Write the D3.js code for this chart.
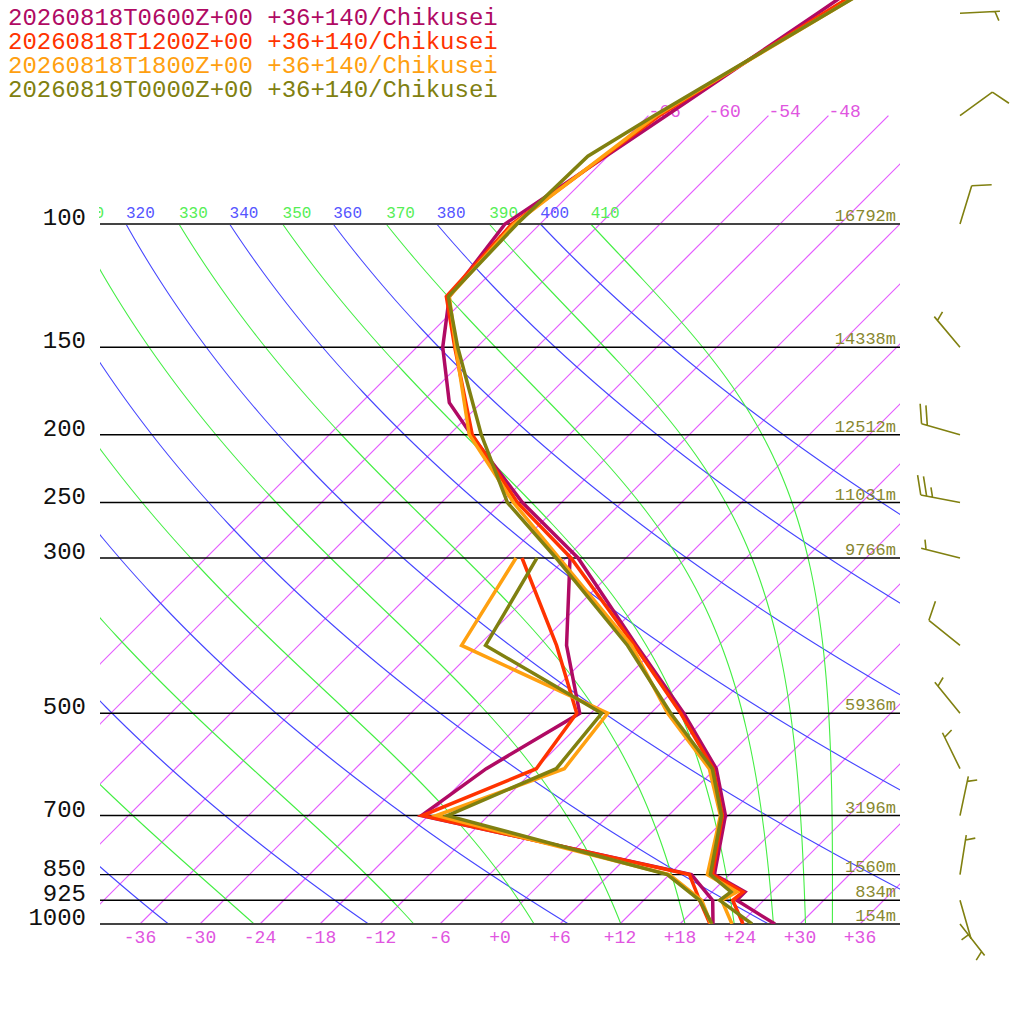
<!DOCTYPE html>
<html><head><meta charset="utf-8">
<script src="https://cdn.jsdelivr.net/npm/d3@7/dist/d3.min.js"></script>
<style>body{margin:0;background:#fff}svg{display:block}</style>
</head><body>
<svg id="c" width="1024" height="1024"></svg>
<script>
// ---------------- data ----------------
const seriesNames = [
  "20260818T0600Z+00 +36+140/Chikusei",
  "20260818T1200Z+00 +36+140/Chikusei",
  "20260818T1800Z+00 +36+140/Chikusei",
  "20260819T0000Z+00 +36+140/Chikusei"
];
const seriesColors = ["#b00a64", "#ff3300", "#ffa010", "#808010"];

// temperature profiles [hPa, degC]
const temp0600 = [[1000,27.5],[925,21.3],[900,21.3],[850,16.5],[700,11.7],[600,6.1],[500,-2.7],[400,-14.2],[300,-28.8],[250,-39.9],[200,-51.8],[180,-57.2],[150,-63.4],[127,-67.8],[100,-69.5],[70,-64.2],[50,-59.3],[30,-52.3]];
const temp1200 = [[1000,24.3],[925,20.9],[900,21.1],[850,16.3],[700,11.4],[600,5.8],[500,-3.0],[400,-14.4],[300,-29.5],[250,-40.4],[200,-51.7],[150,-62.2],[127,-68.1],[100,-68.8],[70,-64.9],[50,-58.7],[30,-49.4]];
const temp1800 = [[1000,23.2],[925,19.8],[900,20.5],[850,15.8],[700,11.2],[600,5.4],[500,-4.3],[400,-14.7],[300,-30.7],[250,-40.8],[200,-52.0],[150,-62.1],[127,-67.8],[100,-68.6],[70,-65.2],[50,-58.3],[30,-47.9]];
const temp0000 = [[1000,25.2],[925,19.6],[900,19.9],[850,16.1],[700,11.3],[600,5.7],[500,-4.0],[400,-15.1],[300,-31.0],[250,-41.4],[200,-50.8],[150,-61.9],[127,-67.9],[100,-68.3],[80,-68.0],[70,-65.4],[50,-58.3],[30,-47.6]];

// dewpoint profiles [hPa, degC]
const dew0600 = [[1000,21.3],[925,18.9],[850,14.2],[700,-18.7],[600,-16.9],[500,-13.1],[400,-21.2],[300,-29.6]];
const dew1200 = [[1000,21.0],[925,17.6],[850,14.0],[700,-18.6],[600,-11.9],[500,-13.4],[400,-22.2],[300,-34.4]];
const dew1800 = [[1000,21.1],[925,17.8],[850,12.0],[700,-17.2],[600,-9.1],[500,-10.3],[400,-31.7],[300,-35.0]];
const dew0000 = [[1000,21.2],[925,17.6],[850,11.8],[700,-16.1],[600,-9.9],[500,-10.9],[400,-29.3],[300,-32.9]];

// wind (last run)
const windP   = [1000,925,850,700,600,500,400,300,250,200,150,100,70,50];
const windDir = [142,164,9,12,334,321,309,284,281,286,320,17,54,87];
const windSpd = [5,5,5,5,5,5,10,5,25,20,5,10,10,5];

// grid
const pressureLevels = [100,150,200,250,300,500,700,850,925,1000];
const heightLabels = ["16792m","14338m","12512m","11031m","9766m","5936m","3196m","1560m","834m","154m"];
const isotherms = d3.range(-66, 37, 6);
const tempTicks = d3.range(-36, 37, 6);
const dryThetas = d3.range(200, 401, 20);
const moistThetaEs = d3.range(210, 411, 20);

// ---------------- chart ----------------
const temps = [temp0600, temp1200, temp1800, temp0000];
const dews = [dew0600, dew1200, dew1800, dew0000];
const svg = d3.select("#c");
const FONT = "'Liberation Mono', monospace";
const L = 100, R = 900, PTOP = 100, PBOT = 1000;
const yP = d3.scaleLog().domain([PBOT, PTOP]).range([924, 224]);
const xT = d3.scaleLinear().domain([-40, 40]).range([L, R]);
const y0 = yP(PBOT);
const skewX = (t, p) => xT(t) + (y0 - yP(p));

const defs = svg.append("defs");
defs.append("clipPath").attr("id", "plot").append("rect").attr("x", L).attr("y", 0).attr("width", R - L).attr("height", y0);
defs.append("clipPath").attr("id", "lab").append("rect").attr("x", L - 1).attr("y", 0).attr("width", R - L + 1).attr("height", y0);

const line = d3.line().x(d => d[0]).y(d => d[1]);
const grid = svg.append("g").attr("clip-path", "url(#plot)").style("fill", "none");

// isotherms from 1000 to 70 hPa
const isoTop = 70;
isotherms.forEach(t => {
  grid.append("path").attr("d", line([[skewX(t, PBOT), yP(PBOT)], [skewX(t, isoTop), yP(isoTop)]]))
    .style("stroke", "#e45cff").style("stroke-width", "1.2px");
});

// dry adiabats
const kappa = 0.2857;
const pSteps = d3.range(0, 1.0001, 0.01).map(k => PBOT * Math.pow(10, -k));
dryThetas.forEach(th => {
  const pts = pSteps.map(p => [skewX(th * Math.pow(p / 1000, kappa) - 273.15, p), yP(p)]);
  grid.append("path").attr("d", line(pts)).style("stroke", "#4646ff").style("stroke-width", "1.1px");
});

// moist (pseudo) adiabats by saturated theta-e (Bolton)
function thetaESat(TK, p) {
  const Tc = TK - 273.15;
  const es = 6.112 * Math.exp(17.67 * Tc / (Tc + 243.5));
  if (es > 0.5 * p) return 1e9;
  const r = 622 * es / (p - es);
  return TK * Math.pow(1000 / p, 0.2854 * (1 - 0.00028 * r)) * Math.exp((3.376 / TK - 0.00254) * r * (1 + 0.00081 * r));
}
function solveT(te, p) {
  let lo = 120, hi = 340;
  for (let i = 0; i < 60; i++) {
    const m = (lo + hi) / 2;
    if (thetaESat(m, p) < te) lo = m; else hi = m;
  }
  return (lo + hi) / 2 - 273.15;
}
const moistTop = {};
moistThetaEs.forEach(te => {
  const pts = pSteps.map(p => [skewX(solveT(te, p), p), yP(p)]);
  moistTop[te] = pts[pts.length - 1][0];
  grid.append("path").attr("d", line(pts)).style("stroke", "#44ee44").style("stroke-width", "1.1px");
});

// pressure lines
pressureLevels.forEach(p => {
  const edge = (p === PTOP || p === PBOT);
  svg.append("line").attr("x1", L).attr("x2", R).attr("y1", yP(p)).attr("y2", yP(p))
    .style("stroke", edge ? "#444" : "#000").style("stroke-width", edge ? "2px" : "1.4px");
});

// pressure labels
pressureLevels.forEach(p => {
  svg.append("text").attr("x", 86).attr("y", yP(p) + 1).attr("text-anchor", "end")
    .attr("font-family", FONT).attr("font-size", 24).attr("fill", "#111").text(p);
});
// height labels
pressureLevels.forEach((p, i) => {
  svg.append("text").attr("x", 896).attr("y", yP(p) - 3).attr("text-anchor", "end")
    .attr("font-family", FONT).attr("font-size", 17).attr("fill", "#888830").text(heightLabels[i]);
});
// temperature tick labels
const fmtT = t => (t < 0 ? "-" + Math.abs(t) : "+" + t);
tempTicks.forEach(t => {
  svg.append("text").attr("x", xT(t)).attr("y", 943).attr("text-anchor", "middle")
    .attr("font-family", FONT).attr("font-size", 18).attr("fill", "#e055e0").text(fmtT(t));
});
// isotherm top labels
isotherms.forEach(t => {
  const xe = skewX(t, isoTop);
  if (xe >= L && xe + 34 <= R) {
    svg.append("text").attr("x", xe).attr("y", yP(isoTop) + 1).attr("font-family", FONT)
      .attr("font-size", 18).attr("fill", "#e055e0").text(fmtT(t));
  }
});
// adiabat labels at 100 hPa
const lab = svg.append("g").attr("clip-path", "url(#lab)").attr("font-family", FONT).attr("font-size", 16);
dryThetas.forEach(th => {
  const x = skewX(th * Math.pow(PTOP / 1000, kappa) - 273.15, PTOP);
  if (x > L - 40 && x < R) lab.append("text").attr("x", x).attr("y", 218).attr("fill", "#5555ff").text(th);
});
moistThetaEs.forEach(te => {
  const x = moistTop[te];
  if (x > L - 40 && x < R) lab.append("text").attr("x", x).attr("y", 218).attr("fill", "#55ee55").text(te);
});

// soundings
const snd = svg.append("g").attr("clip-path", "url(#plot)").style("fill", "none")
  .style("stroke-width", "3.5px").style("stroke-linejoin", "miter");
const profLine = d3.line().x(d => skewX(d[1], d[0])).y(d => yP(d[0]));
temps.forEach((tp, i) => {
  snd.append("path").attr("d", profLine(dews[i])).style("stroke", seriesColors[i]);
  snd.append("path").attr("d", profLine(tp)).style("stroke", seriesColors[i]);
});

// titles
seriesNames.forEach((s, i) => {
  svg.append("text").attr("x", 8).attr("y", 25 + 24 * i).attr("font-family", FONT)
    .attr("font-size", 24).attr("fill", seriesColors[i]).text(s);
});

// wind barbs
const bx = 960, SL = 40, rot = 70 * Math.PI / 180;
const barbs = svg.append("g").style("fill", "none").style("stroke", seriesColors[3]).style("stroke-width", "1.6px");
windP.forEach((p, i) => {
  const y = yP(p);
  const a = windDir[i] * Math.PI / 180;
  const ux = Math.sin(a), uy = -Math.cos(a);
  const tx = bx + SL * ux, ty = y + SL * uy;
  let d = `M${bx},${y}L${tx},${ty}`;
  const ang = Math.atan2(uy, ux) + rot;
  const vx = Math.cos(ang), vy = Math.sin(ang);
  const full = Math.floor(windSpd[i] / 10), half = (windSpd[i] % 10) >= 5;
  let pos = 0;
  for (let k = 0; k < full; k++) {
    const sx = tx - pos * ux, sy = ty - pos * uy;
    d += `M${sx},${sy}l${20 * vx},${20 * vy}`;
    pos += 6;
  }
  if (half) {
    if (full === 0) pos = 5;
    const sx = tx - pos * ux, sy = ty - pos * uy;
    d += `M${sx},${sy}l${10 * vx},${10 * vy}`;
  }
  barbs.append("path").attr("d", d);
});
</script>
</body></html>
